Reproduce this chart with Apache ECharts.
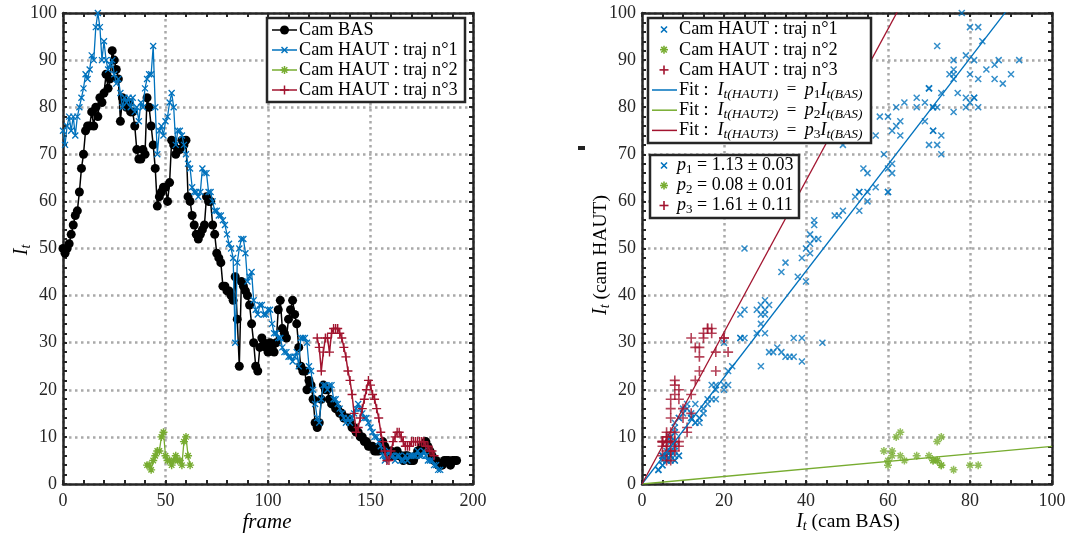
<!DOCTYPE html>
<html><head><meta charset="utf-8">
<script src="https://cdn.jsdelivr.net/npm/echarts@6.0.0/dist/echarts.min.js"></script>
<style>html,body{margin:0;padding:0;background:#fff}#c{width:1071px;height:534px}</style>
</head><body><div id="c"></div><script>
// ---------- DATA ----------
const basStart = 0;
const basValues = [
 50,49,50,51,53,55,57,58,62,67, 70,75,76,76,79,76,80,78,82,81,
 83,87,84,86,92,90,88,86,77,82, 81,80,81,79,79,76,71,69,69,71,
 70,82,80,76,72,67,59,61,62,63, 63,60,64,73,72,70,71,71,73,72,
 73,61,60,57,55,53,52,53,54,55, 61,60,60,55,53,49,48,47,42,42,
 41,41,40,39,44,35,25,43,42,41, 40,38,34,30,25,24,29,31,30,29,
 28,30,29,28,30,37,39,33,32,31, 35,37,39,36,34,29,25,24,24,20,
 22,21,18,13,12,13,18,21,20,20, 18,17,17,16,16,15,15,14,14,14,
 13,12,12,11,11,10,10,9,9,8, 8,8,7,7,7,8,9,8,7,6,
 7,6,6,7,6,6,5,6,6,5, 5,5,6,7,7,8,8,9,8,7,
 6,5,5,4,4,4,5,5,5,4, 5,5,5
];
const traj1Start = 0;
const traj1Values = [
 75,72,76,78,75,78,74,78,80,82, 84,87,86,88,91,90,97,100,97,90,
 94,90,88,89,90,87,85,86,83,80, 82,81,82,80,82,79,80,77,81,80,
 84,86,87,87,93,80,70,75,76,74, 77,78,81,83,80,72,75,75,74,72,
 70,68,67,63,62,62,61,62,67,66, 66,62,62,60,58,58,57,57,56,55,
 53,51,50,48,30,47,50,52,52,49, 43,44,45,39,37,36,38,38,36,36,
 37,37,34,32,32,31,31,29,28,28, 27,27,26,27,28,25,31,31,31,30,
 25,24,20,17,14,13,18,21,21,20, 21,21,18,18,17,16,15,14,13,14,
 13,14,15,16,17,16,15,14,14,13, 12,11,10,10,9,8,6,5,6,7,
 6,6,5,6,6,5,5,6,5,6, 6,6,6,7,6,6,7,6,5,5,
 5,4,4,3,3
];
const traj2Start = 41;
const traj2Values = [4,4,3,5,6,7,7,10,11,6,5,5,4,5,6,5,5,4,9,10,6,4];
const traj3Start = 124;
const traj3Values = [
 31,29,24,28,31,31,28,32,33,33, 33,32,31,29,27,24,22,19,15,11,
 12,14,16,18,20,22,21,19,18,16, 14,11,9,7,5,5,7,9,10,11,
 11,10,9,8,8,8,9,9,9,9, 9,9,9,8,8,7,7,6
];
const fitSlopes = [1.13, 0.08, 1.61];
const fitErrors = [0.03, 0.01, 0.11];
const trajNames = ['Cam HAUT : traj n°1', 'Cam HAUT : traj n°2', 'Cam HAUT : traj n°3'];
const basName = 'Cam BAS';

// ---------- STYLE ----------
const C = {bas:'#000000', t1:'#0072BD', t2:'#77AC30', t3:'#A2142F', ax:'#262626', grid:'#a9a9a9'};
const FONT = '"Liberation Serif", "Times New Roman", serif';
const SYM = {
  x: 'path://M0,0L10,10M10,0L0,10',
  plus: 'path://M5,0L5,10M0,5L10,5',
  star: 'path://M5,0L5,10M0,5L10,5M1.6,1.6L8.4,8.4M8.4,1.6L1.6,8.4'
};

function timePairs(start, vals){ return vals.map((v,i)=>[start+i, v]); }
function scatterPairs(start, vals){ return vals.map((v,i)=>[basValues[start+i-basStart], v]); }

function xAx(gi, pos, max, interval, minorSplit, labels){
  return {type:'value', gridIndex:gi, position:pos, min:0, max:max, interval:interval,
    axisLine:{show:true, onZero:false, lineStyle:{color:C.ax, width:2.5}},
    axisTick:{show:true, inside:true, length:4, lineStyle:{color:C.ax, width:2}},
    minorTick:{show:true, splitNumber:minorSplit, length:4, lineStyle:{color:C.ax, width:2}},
    axisLabel:{show:labels, margin:8, color:C.ax, fontFamily:FONT, fontSize:18, showMinLabel:true, showMaxLabel:true, hideOverlap:false},
    splitLine:{show:labels, lineStyle:{color:C.grid, width:2.5, type:[2.5,3.5]}},
    minorSplitLine:{show:false}};
}
function yAx(gi, pos, labels){
  return {type:'value', gridIndex:gi, position:pos, min:0, max:100, interval:10,
    axisLine:{show:true, onZero:false, lineStyle:{color:C.ax, width:2.5}},
    axisTick:{show:true, inside:true, length:4, lineStyle:{color:C.ax, width:2}},
    minorTick:{show:true, splitNumber:5, length:4, lineStyle:{color:C.ax, width:2}},
    axisLabel:{show:labels, margin:6, color:C.ax, fontFamily:FONT, fontSize:18, showMinLabel:true, showMaxLabel:true, hideOverlap:false},
    splitLine:{show:labels, lineStyle:{color:C.grid, width:2.5, type:[2.5,3.5]}},
    minorSplitLine:{show:false}};
}

const series = [
  {type:'line', xAxisIndex:0, yAxisIndex:0, data:timePairs(basStart, basValues), symbol:'circle', symbolSize:9,
   showAllSymbol:true, itemStyle:{color:C.bas}, lineStyle:{color:C.bas, width:1.5}, z:2},
  {type:'line', xAxisIndex:0, yAxisIndex:0, data:timePairs(traj1Start, traj1Values), symbol:SYM.x, symbolSize:6,
   showAllSymbol:true, itemStyle:{color:'rgba(0,0,0,0)', borderColor:C.t1, borderWidth:1.3}, lineStyle:{color:C.t1, width:1.3}, z:3},
  {type:'line', xAxisIndex:0, yAxisIndex:0, data:timePairs(traj2Start, traj2Values), symbol:SYM.star, symbolSize:8,
   showAllSymbol:true, itemStyle:{color:'rgba(0,0,0,0)', borderColor:C.t2, borderWidth:1.4}, lineStyle:{color:C.t2, width:1.3}, z:4},
  {type:'line', xAxisIndex:0, yAxisIndex:0, data:timePairs(traj3Start, traj3Values), symbol:SYM.plus, symbolSize:9,
   showAllSymbol:true, itemStyle:{color:'rgba(0,0,0,0)', borderColor:C.t3, borderWidth:1.4}, lineStyle:{color:C.t3, width:1.5}, z:5},
  {type:'scatter', xAxisIndex:2, yAxisIndex:2, data:scatterPairs(traj1Start, traj1Values), symbol:SYM.x, symbolSize:6,
   itemStyle:{color:'rgba(0,0,0,0)', borderColor:C.t1, borderWidth:1.5}, z:3},
  {type:'scatter', xAxisIndex:2, yAxisIndex:2, data:scatterPairs(traj2Start, traj2Values), symbol:SYM.star, symbolSize:8,
   itemStyle:{color:'rgba(0,0,0,0)', borderColor:C.t2, borderWidth:1.5}, z:3},
  {type:'scatter', xAxisIndex:2, yAxisIndex:2, data:scatterPairs(traj3Start, traj3Values), symbol:SYM.plus, symbolSize:10,
   itemStyle:{color:'rgba(0,0,0,0)', borderColor:C.t3, borderWidth:1.6}, z:3}
];
[C.t1, C.t2, C.t3].forEach((col, k)=>{
  series.push({type:'line', xAxisIndex:2, yAxisIndex:2, data:[[0,0],[100,fitSlopes[k]*100]], symbol:'none',
    clip:true, lineStyle:{color:col, width:1.3}, z:4});
});

// ---------- TEXT HELPERS ----------
const mctx = document.createElement('canvas').getContext('2d');
function fnt(size, it){ return (it?'italic ':'') + size + 'px ' + FONT; }
function tw(t, size, it){ mctx.font = fnt(size, it); return mctx.measureText(t).width; }
// parts: [text, size, italic, dy]
function mathGroup(x, y, parts, align, rotation){
  const ws = parts.map(p=>tw(p[0], p[1], p[2]));
  const total = ws.reduce((a,b)=>a+b, 0);
  let cx = align==='center' ? -total/2 : 0;
  const children = parts.map((p,i)=>{
    const el = {type:'text', x:cx, y:(p[3]||0), z:120, style:{text:p[0], font:fnt(p[1], p[2]), fill:'#000',
      textAlign:'left', textVerticalAlign:'middle', verticalAlign:'middle'}};
    cx += ws[i];
    return el;
  });
  return {type:'group', x:x, y:y, rotation:rotation||0, children:children, z:120};
}
function marker(type, cx, cy, s, col, lw){
  const h = s/2, els = [];
  const L = (x1,y1,x2,y2)=>els.push({type:'line', shape:{x1,y1,x2,y2}, style:{stroke:col, lineWidth:lw}, z:115});
  if(type==='circle'){ els.push({type:'circle', shape:{cx, cy, r:h}, style:{fill:col}, z:115}); }
  if(type==='x' || type==='star'){ const d = type==='star'? h*0.7 : h; L(cx-d,cy-d,cx+d,cy+d); L(cx+d,cy-d,cx-d,cy+d); }
  if(type==='plus' || type==='star'){ L(cx-h,cy,cx+h,cy); L(cx,cy-h,cx,cy+h); }
  return els;
}
function box(x, y, w, h){ return {type:'rect', shape:{x, y, width:w, height:h}, style:{fill:'#fff', stroke:C.ax, lineWidth:2.5}, z:110}; }
function seg(x1, x2, y, col){ return {type:'line', shape:{x1, y1:y, x2, y2:y}, style:{stroke:col, lineWidth:1.5}, z:112}; }

const G = [];
// left legend
G.push(box(267, 18, 198, 84));
const leftRows = [[basName, C.bas, 'circle', 9], [trajNames[0], C.t1, 'x', 6], [trajNames[1], C.t2, 'star', 8], [trajNames[2], C.t3, 'plus', 9]];
leftRows.forEach((r, i)=>{
  const y = 30 + i*20;
  G.push(seg(272, 297, y, r[1]));
  marker(r[2], 284.5, y, r[3], r[1], 1.5).forEach(e=>G.push(e));
  G.push(mathGroup(299, y, [[r[0], 18.3, false]], 'left'));
});
// right legend 1
G.push(box(648, 18, 223, 125));
[[C.t1,'x',6],[C.t2,'star',8],[C.t3,'plus',9]].forEach((m, i)=>{
  const y = 29.5 + i*20.2;
  marker(m[1], 664, y, m[2], m[0], 1.6).forEach(e=>G.push(e));
  G.push(mathGroup(679, y, [[trajNames[i], 18.3, false]], 'left'));
});
['HAUT1','HAUT2','HAUT3'].forEach((h, i)=>{
  const y = 90 + i*20.2;
  const col = [C.t1, C.t2, C.t3][i];
  G.push(seg(652, 677, y, col));
  G.push(mathGroup(679, y, [['Fit :  ',18,false],['I',18,true],['t(' + h + ')',13.5,true,4],['  =  ',17,false],
    ['p',18,true],[String(i+1),13.5,false,4],['I',18,true],['t(BAS)',13.5,true,4]], 'left'));
});
// right legend 2
G.push(box(650, 155, 149, 63));
[[C.t1,'x',6],[C.t2,'star',8],[C.t3,'plus',9]].forEach((m, i)=>{
  const y = 165.5 + i*20;
  marker(m[1], 664, y, m[2], m[0], 1.6).forEach(e=>G.push(e));
  G.push(mathGroup(677, y, [['p',18,true],[String(i+1),13,false,4],
    [' = ' + fitSlopes[i].toFixed(2) + ' ± ' + fitErrors[i].toFixed(2),18,false]], 'left'));
});
// axis titles
G.push(mathGroup(22, 250, [['I',20,true],['t',14,true,4.5]], 'center', Math.PI/2));
G.push(mathGroup(267, 522, [['frame',21,true]], 'center'));
G.push(mathGroup(601, 255, [['I',20,true],['t',14,true,4.5],[' (cam HAUT)',19.5,false]], 'center', Math.PI/2));
G.push(mathGroup(848, 522, [['I',20,true],['t',14,true,4.5],[' (cam BAS)',19.5,false]], 'center'));
// small mark left of right panel
G.push({type:'rect', shape:{x:578, y:146, width:7, height:4}, style:{fill:'#222'}, z:100});

const option = {
  animation:false,
  backgroundColor:'#fff',
  grid:[
    {left:63, top:13, width:410, height:471, containLabel:false, outerBoundsMode:'none'},
    {left:642, top:13, width:410, height:471, containLabel:false, outerBoundsMode:'none'}
  ],
  xAxis:[xAx(0,'bottom',200,50,5,true), xAx(0,'top',200,50,5,false), xAx(1,'bottom',100,20,4,true), xAx(1,'top',100,20,4,false)],
  yAxis:[yAx(0,'left',true), yAx(0,'right',false), yAx(1,'left',true), yAx(1,'right',false)],
  series:series,
  graphic:{elements:G}
};
const chart = echarts.init(document.getElementById('c'), null, {renderer:'canvas'});
chart.setOption(option);
</script></body></html>
